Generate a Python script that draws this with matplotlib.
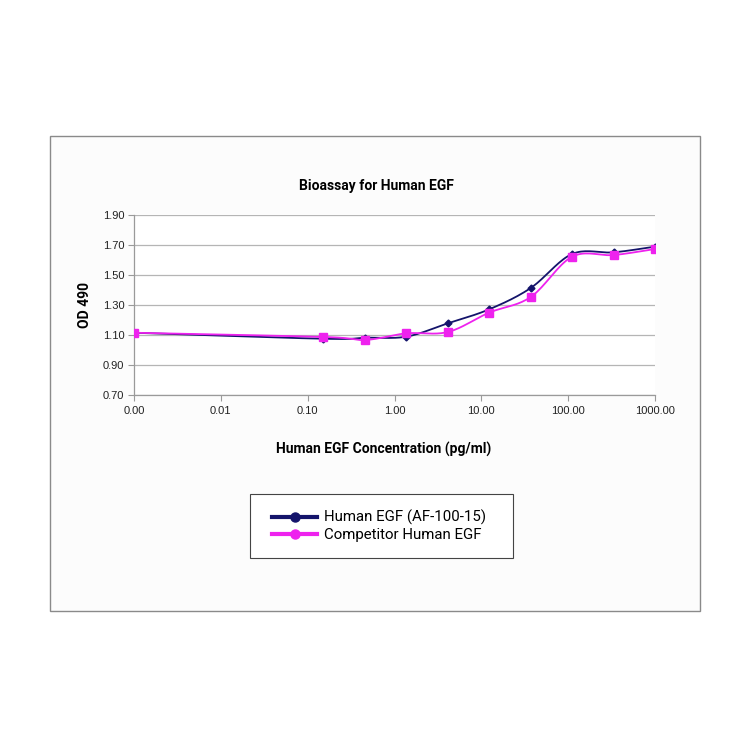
import numpy as np
import matplotlib.pyplot as plt
from matplotlib.patches import Rectangle
from matplotlib.lines import Line2D
from matplotlib.ticker import FixedLocator, NullLocator

plt.rcParams['font.family'] = ['Liberation Sans', 'DejaVu Sans']

# data (0.001 stands for the zero-dose point)
conc = [0.001, 0.152, 0.457, 1.37, 4.12, 12.3, 37.0, 111.0, 333.0, 1000.0]
od_ours = [1.115, 1.075, 1.082, 1.089, 1.178, 1.271, 1.413, 1.640, 1.651, 1.689]
od_comp = [1.115, 1.087, 1.067, 1.111, 1.120, 1.249, 1.353, 1.622, 1.633, 1.673]
x_ticks = [0.001, 0.01, 0.1, 1, 10, 100, 1000]
x_ticklabels = ['0.00', '0.01', '0.10', '1.00', '10.00', '100.00', '1000.00']
y_ticks = [0.70, 0.90, 1.10, 1.30, 1.50, 1.70, 1.90]

navy = '#14146b'
pink = '#ee22ee'


def smooth(xs, ys, n=20):
    # Catmull-Rom through the points, in log-x space (like Excel's smoothed line)
    lx = np.log10(xs)
    ys = np.asarray(ys, float)
    px = np.concatenate([[2 * lx[0] - lx[1]], lx, [2 * lx[-1] - lx[-2]]])
    py = np.concatenate([[2 * ys[0] - ys[1]], ys, [2 * ys[-1] - ys[-2]]])
    outx, outy = [], []
    t = np.linspace(0, 1, n)
    for i in range(1, len(px) - 2):
        for p, out in ((px, outx), (py, outy)):
            p0, p1, p2, p3 = p[i - 1], p[i], p[i + 1], p[i + 2]
            out.extend(0.5 * (2 * p1 + (-p0 + p2) * t
                              + (2 * p0 - 5 * p1 + 4 * p2 - p3) * t ** 2
                              + (-p0 + 3 * p1 - 3 * p2 + p3) * t ** 3))
    return 10 ** np.array(outx), np.array(outy)


fig = plt.figure(figsize=(7.5, 7.5), dpi=100)
# outer chart box and legend box
fig.patches.append(Rectangle((50 / 750, 1 - 611 / 750), 650 / 750, 475 / 750,
                             transform=fig.transFigure, facecolor='#fcfcfc',
                             edgecolor='#8a8a8a', linewidth=1.0, zorder=-5))
fig.patches.append(Rectangle((250 / 750, 1 - 558 / 750), 263 / 750, 64 / 750,
                             transform=fig.transFigure, facecolor='white',
                             edgecolor='#444444', linewidth=0.8, zorder=-4))

ax = fig.add_axes([134 / 750, 1 - 395 / 750, 521 / 750, 180 / 750])
ax.set_zorder(2)
ax.set_facecolor('white')

sx, sy = smooth(conc, od_ours)
ax.plot(sx, sy, color=navy, lw=1.3, zorder=3)
ax.plot(conc, od_ours, 'D', color=navy, ms=3.5, zorder=4)
sx, sy = smooth(conc, od_comp)
ax.plot(sx, sy, color=pink, lw=1.3, zorder=3)
ax.plot(conc, od_comp, 's', color=pink, ms=5.5, zorder=4)

ax.set_xscale('log')
ax.set_xlim(0.001, 1000)
ax.set_ylim(0.70, 1.90)
ax.xaxis.set_major_locator(FixedLocator(x_ticks))
ax.xaxis.set_minor_locator(NullLocator())
ax.set_xticklabels(x_ticklabels)
ax.set_yticks(y_ticks)
ax.set_yticklabels(['%.2f' % v for v in y_ticks])
ax.yaxis.grid(True, color='#b5b5b5', lw=0.9)
ax.set_axisbelow(True)
for s in ['top', 'right']:
    ax.spines[s].set_visible(False)
for s in ['left', 'bottom']:
    ax.spines[s].set_color('#9a9a9a')
    ax.spines[s].set_linewidth(0.9)
ax.tick_params(axis='both', colors='#9a9a9a', labelcolor='#222222',
               labelsize=8, length=4, width=0.8)
ax.tick_params(axis='y', pad=3)
ax.tick_params(axis='x', pad=4)

fig.text(376 / 750, 1 - 186 / 750, 'Bioassay for Human EGF', ha='center',
         va='center', fontsize=10, fontweight='bold', family=['Roboto', 'DejaVu Sans'])
fig.text(384 / 750, 1 - 449 / 750, 'Human EGF Concentration (pg/ml)', ha='center',
         va='center', fontsize=10, fontweight='bold', family=['Roboto', 'DejaVu Sans'])
fig.text(85 / 750, 1 - 305 / 750, 'OD 490', ha='center', va='center', rotation=90,
         fontsize=10, fontweight='bold', family=['Roboto', 'DejaVu Sans'])

handles = [Line2D([], [], color=navy, lw=3, marker='o', ms=6.5),
           Line2D([], [], color=pink, lw=3, marker='o', ms=6.5)]
leg = fig.legend(handles, ['Human EGF (AF-100-15)', 'Competitor Human EGF'],
                 loc='center left', bbox_to_anchor=(272 / 750, 1 - 526 / 750),
                 frameon=False,
                 prop={'family': ['Roboto', 'DejaVu Sans'], 'size': 10.8},
                 handlelength=3.0, borderpad=0, labelspacing=0.2,
                 handletextpad=0.45, borderaxespad=0)

fig.savefig('out.png', dpi=100, facecolor='white')
